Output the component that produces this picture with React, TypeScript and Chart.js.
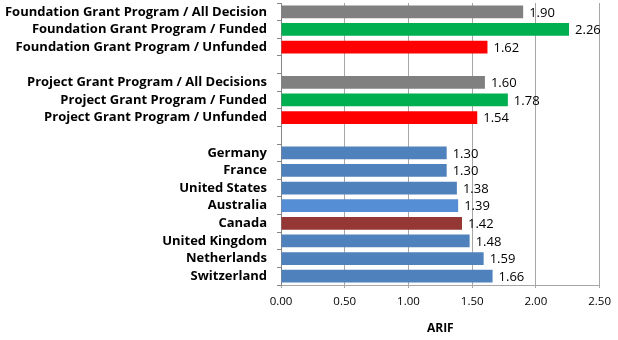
import React, { useEffect, useRef } from "react";
import { Chart, registerables } from "chart.js";

Chart.register(...registerables);

const categories = [
  "Foundation Grant Program / All Decision",
  "Foundation Grant Program / Funded",
  "Foundation Grant Program / Unfunded",
  "",
  "Project Grant Program / All Decisions",
  "Project Grant Program / Funded",
  "Project Grant Program / Unfunded",
  "",
  "Germany",
  "France",
  "United States",
  "Australia",
  "Canada",
  "United Kingdom",
  "Netherlands",
  "Switzerland",
];

const values: (number | null)[] = [
  1.9, 2.26, 1.62, null, 1.6, 1.78, 1.54, null, 1.3, 1.3, 1.38, 1.39, 1.42, 1.48, 1.59, 1.66,
];

const barColors = [
  "#808080", "#00B050", "#FF0000", "#ffffff",
  "#808080", "#00B050", "#FF0000", "#ffffff",
  "#4F81BD", "#4F81BD", "#4F81BD", "#558ED5", "#953735", "#4F81BD", "#4F81BD", "#4F81BD",
];

const xTicks = [0, 0.5, 1, 1.5, 2, 2.5];
const axisTitle = "ARIF";

const FONT = "'Open Sans', sans-serif";

const valueLabels = {
  id: "valueLabels",
  afterDatasetsDraw(chart: any) {
    const ctx = chart.ctx;
    const meta = chart.getDatasetMeta(0);
    ctx.save();
    ctx.font = `13px ${FONT}`;
    ctx.fillStyle = "#000";
    ctx.textBaseline = "middle";
    ctx.textAlign = "left";
    meta.data.forEach((bar: any, i: number) => {
      const v = values[i];
      if (v == null) return;
      ctx.fillText(v.toFixed(2), bar.x + 6, bar.y + 1);
    });
    ctx.restore();
  },
};

export default function App() {
  const ref = useRef<HTMLCanvasElement>(null);
  useEffect(() => {
    const chart = new Chart(ref.current!, {
      type: "bar",
      data: {
        labels: categories,
        datasets: [
          {
            data: values as any,
            backgroundColor: barColors,
            barPercentage: 0.72,
            categoryPercentage: 1,
          },
        ],
      },
      options: {
        indexAxis: "y",
        animation: false,
        responsive: false,
        maintainAspectRatio: false,
        layout: { padding: { top: 3, right: 17, left: 0, bottom: 0 } },
        plugins: { legend: { display: false }, tooltip: { enabled: false } },
        scales: {
          x: {
            min: 0,
            max: 2.5,
            afterBuildTicks: (s: any) => {
              s.ticks = xTicks.map((v) => ({ value: v }));
            },
            afterFit: (s: any) => {
              s.height = 55;
            },
            ticks: {
              callback: (v: any) => Number(v).toFixed(2),
              font: { family: FONT, size: 11.5 },
              color: "#000",
              padding: 7,
            },
            grid: { color: "#A6A6A6", tickLength: 3, lineWidth: 1 },
            border: { color: "#A6A6A6" },
            title: {
              display: true,
              text: axisTitle,
              font: { family: FONT, size: 12, weight: "bold" },
              color: "#000",
              padding: { top: 12 },
            },
          },
          y: {
            afterFit: (s: any) => {
              s.width = 281;
              s.paddingTop = 0;
              s.paddingBottom = 0;
            },
            ticks: {
              font: { family: FONT, size: 13, weight: "bold" },
              color: "#000",
              padding: 10,
              autoSkip: false,
            },
            grid: { drawOnChartArea: false, color: "#868686", tickLength: 4 },
            border: { color: "#868686" },
          },
        },
      },
      plugins: [valueLabels],
    });
    return () => chart.destroy();
  }, []);
  return (
    <div style={{ position: "fixed", left: 0, top: 0, width: 618, height: 340, background: "#fff" }}>
      <canvas ref={ref} width={618} height={340} />
    </div>
  );
}
